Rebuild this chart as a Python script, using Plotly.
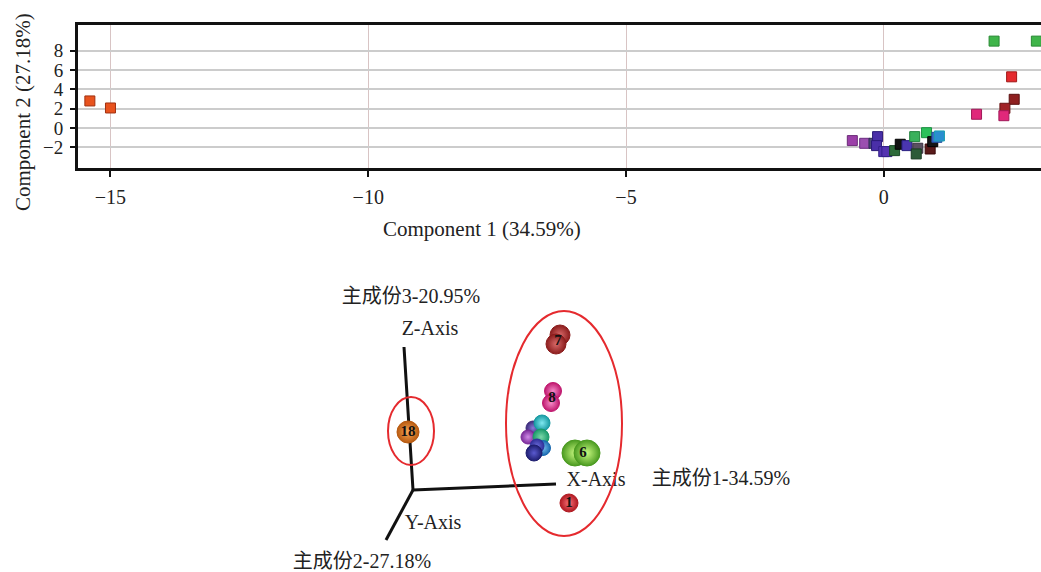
import plotly.graph_objects as go

FONT = "Liberation Serif, 'Noto Sans CJK SC', serif"

# ---------------- top 2D score plot data ----------------
pc1 = [-15.40, -15.00, 2.14, 2.96, 2.48, 2.53, 2.35, 1.80, 2.33,
       -0.61, -0.37, -0.19, -0.12, -0.14, 0.00, 0.06, 0.21, 0.32, 0.45,
       0.60, 0.66, 0.63, 0.83, 0.90, 0.95, 1.03, 1.08]
pc2 = [2.80, 2.07, 9.00, 9.00, 5.30, 2.97, 2.04, 1.42, 1.27,
       -1.31, -1.59, -1.59, -0.90, -1.83, -2.45, -2.45, -2.35, -1.69, -1.83,
       -0.90, -2.10, -2.69, -0.49, -2.18, -1.42, -0.97, -0.83]
pt_colors = ["#e8531e", "#e8531e", "#3fb54a", "#3fb54a", "#e52a2e", "#8e1f1f", "#a02226",
             "#e0287a", "#e0287a",
             "#9b3fa8", "#9b4fb0", "#4b4a78", "#4a2fa8", "#4a2fa8", "#5533b0", "#5533b0",
             "#2d6b3a", "#111111", "#4a36b0", "#3ab05c", "#5a5060", "#2d5b38", "#2cc05a",
             "#5a1a1a", "#151515", "#3a6cc8", "#2a8ed0"]
pt_borders = ["#a03010", "#a03010", "#2a8a35", "#2a8a35", "#a01818", "#5a1010", "#6a1414",
              "#a01858", "#a01858",
              "#6a2a78", "#6a2a80", "#2b2a50", "#2a1a78", "#2a1a78", "#33208a", "#33208a",
              "#1a4a26", "#000000", "#2a2080", "#20803c", "#3a3040", "#1a3a22", "#1a9040",
              "#3a0a0a", "#000000", "#224a98", "#1aa0b0"]
x_ticks = [-15, -10, -5, 0]
y_ticks = [-2, 0, 2, 4, 6, 8]

# ---------------- bottom pseudo-3D PCA sketch data ----------------
axis_origin = (413, 490)
axis_ends_x = [556, 404, 386]   # X, Z, Y axis ends
axis_ends_y = [484, 347, 540]

sph_x = [560, 556, 553, 551, 533, 528, 542, 541, 543, 537, 534, 575, 587, 569, 408]
sph_y = [335, 344, 391, 403, 428, 437, 423, 437, 448, 446, 453, 453, 453, 503, 432]
sph_d = [20, 20, 17, 17, 14, 14, 16, 16, 15, 14, 16, 26, 26, 18, 22]
sph_edge = ["#8b1c1c", "#8b1c1c", "#c0186e", "#c0186e", "#3b2a7a", "#7a2a9a", "#189aa2",
            "#1a9a6a", "#1a6ab0", "#30309a", "#1e1e70", "#4a9a20", "#4a9a20", "#b01820", "#b85a10"]
sph_center = ["#d86a6a", "#d86a6a", "#f58ac8", "#f58ac8", "#8a7ad8", "#d08ae8", "#80e8f0",
              "#7ad8a8", "#7ac0f0", "#6a6ad8", "#5a5ad0", "#c8f880", "#c8f880", "#f87078", "#f8a858"]

sph_labels = ["7", "8", "6", "1", "18"]
lab_x = [558, 552, 583, 569, 408]
lab_y = [341, 398, 453, 503, 432]

ell_x0 = [388, 506]
ell_x1 = [434, 622]
ell_y0 = [397, 311]
ell_y1 = [465, 536]

txt = ["主成份3-20.95%", "Z-Axis", "X-Axis", "主成份1-34.59%", "Y-Axis", "主成份2-27.18%"]
txt_x = [411, 430, 596, 721, 433, 362]
txt_y = [298, 330, 481, 480, 524, 563]

W, H = 1041, 572

fig = go.Figure()

fig.add_trace(go.Scatter(
    x=pc1, y=pc2, mode="markers", xaxis="x", yaxis="y", showlegend=False,
    marker=dict(symbol="square", size=10, color=pt_colors,
                line=dict(color=pt_borders, width=1))))

# 3D axis lines
for ex, ey in zip(axis_ends_x, axis_ends_y):
    fig.add_trace(go.Scatter(
        x=[axis_origin[0], ex], y=[axis_origin[1], ey], mode="lines",
        xaxis="x2", yaxis="y2", showlegend=False,
        line=dict(color="#111111", width=3)))

# spheres
fig.add_trace(go.Scatter(
    x=sph_x, y=sph_y, mode="markers", xaxis="x2", yaxis="y2", showlegend=False,
    marker=dict(symbol="circle", size=sph_d, color=sph_edge, opacity=1,
                gradient=dict(type="radial", color=sph_center),
                line=dict(color=sph_edge, width=1))))

fig.add_trace(go.Scatter(
    x=lab_x, y=lab_y, mode="text", text=[f"<b>{t}</b>" for t in sph_labels],
    xaxis="x2", yaxis="y2", showlegend=False,
    textfont=dict(family=FONT, size=15, color="#111111")))

fig.add_trace(go.Scatter(
    x=txt_x, y=txt_y, mode="text", text=txt, xaxis="x2", yaxis="y2", showlegend=False,
    textfont=dict(family=FONT, size=20, color="#222222")))

shapes = []
for a, b, c, d in zip(ell_x0, ell_x1, ell_y0, ell_y1):
    shapes.append(dict(type="circle", xref="x2", yref="y2", x0=a, x1=b, y0=c, y1=d,
                       line=dict(color="#e52a2e", width=2)))

top_y0 = 1 - 168 / H
top_y1 = 1 - 25 / H

fig.update_layout(
    width=W, height=H,
    margin=dict(l=0, r=0, t=0, b=0),
    paper_bgcolor="white", plot_bgcolor="white",
    font=dict(family=FONT, color="#222222"),
    shapes=shapes,
    hovermode=False,
    xaxis=dict(domain=[78 / W, 1.0], range=[-15.63, 3.05], anchor="y",
               tickvals=x_ticks, showgrid=True, gridcolor="#d8c4c4", gridwidth=1,
               zeroline=False, showline=True, mirror=True, linecolor="#111111", linewidth=3,
               ticks="outside", ticklen=6, tickwidth=2, tickcolor="#111111",
               ticklabelstandoff=3,
               tickfont=dict(family=FONT, size=20, color="#222222")),
    yaxis=dict(domain=[top_y0, top_y1], range=[-4.15, 10.67], anchor="x",
               tickvals=y_ticks, showgrid=True, gridcolor="#cccccc", gridwidth=2,
               zeroline=False, showline=True, mirror=False, linecolor="#111111", linewidth=3,
               ticks="outside", ticklen=5, tickwidth=2, tickcolor="#111111",
               ticklabelstandoff=3,
               tickfont=dict(family=FONT, size=19, color="#222222")),
    xaxis2=dict(domain=[0, 1], range=[0, W], anchor="y2", visible=False, fixedrange=True),
    yaxis2=dict(domain=[0, 1 - 270 / H], range=[H, 270], anchor="x2", visible=False,
                fixedrange=True),
    annotations=[
        dict(text="Component 1 (34.59%)", xref="paper", yref="paper",
             x=482 / W, y=1 - 229 / H, xanchor="center", yanchor="middle", showarrow=False,
             font=dict(family=FONT, size=21, color="#222222")),
        dict(text="Component 2 (27.18%)", xref="paper", yref="paper",
             x=23 / W, y=1 - 112 / H, xanchor="center", yanchor="middle", showarrow=False,
             textangle=-90, font=dict(family=FONT, size=21, color="#222222")),
    ],
)

fig.write_html("out.html", config={"displayModeBar": False, "staticPlot": True},
               post_script="document.body.style.margin='0';document.body.style.padding='0';")
